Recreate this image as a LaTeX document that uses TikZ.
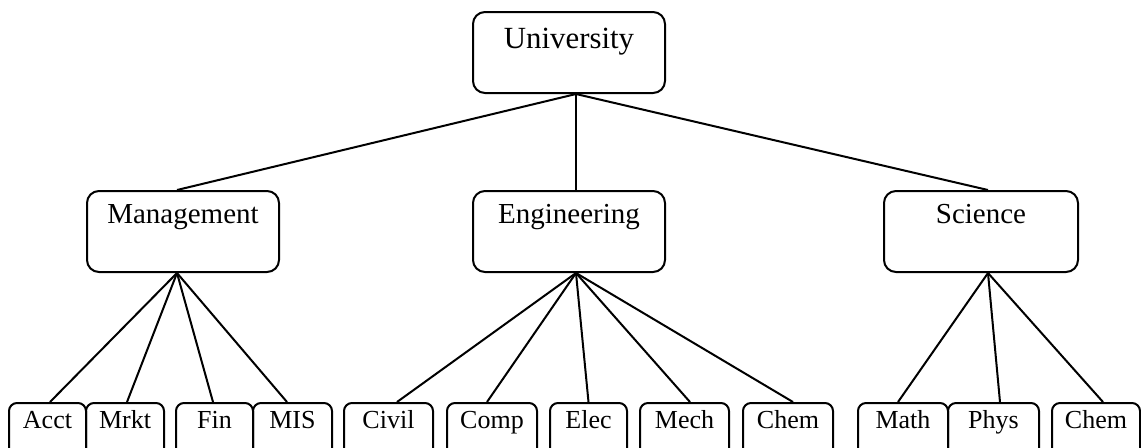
\documentclass[tikz,border=0pt]{standalone}
\usepackage{fontspec}
\setmainfont{Liberation Serif}
\begin{document}
\begin{tikzpicture}[x=0.5pt,y=-0.5pt,
  unitbox/.style={draw, line width=1pt, rounded corners=6pt, anchor=north,
    inner xsep=0pt, inner ysep=0pt, minimum width=#1*0.5pt,
    font=\fontsize{14.5pt}{17pt}\selectfont, text depth=24.5pt, text height=16pt},
  topbox/.style={unitbox=#1, font=\fontsize{15.4pt}{18pt}\selectfont,
    text height=18pt, text depth=22.5pt},
  deptbox/.style={draw, line width=1pt, rounded corners=4pt, anchor=north,
    inner xsep=0pt, inner ysep=0pt, minimum width=#1*0.5pt,
    font=\fontsize{13pt}{15pt}\selectfont, text height=12.5pt, text depth=15pt},
  link/.style={line width=1pt}]
\useasboundingbox (0,0) rectangle (1141,447);
\clip (0,0) rectangle (1141,447);

% top level
\node[topbox=192] (uni) at (569,11) {University};

% faculties
\node[unitbox=192] (mgmt) at (183,190) {Management};
\node[unitbox=192] (eng)  at (569,190) {Engineering};
\node[unitbox=194] (sci)  at (981,190) {Science};

% departments
\node[deptbox=77] (acct)  at (47.5,402) {Acct};
\node[deptbox=78] (mrkt)  at (125,402)  {Mrkt};
\node[deptbox=77] (fin)   at (214.5,402) {Fin};
\node[deptbox=79] (mis)   at (292.5,402) {MIS};
\node[deptbox=89] (civil) at (388.5,402) {Civil};
\node[deptbox=90] (comp)  at (492,402)  {Comp};
\node[deptbox=77] (elec)  at (588.5,402) {Elec};
\node[deptbox=89] (mech)  at (684.5,402) {Mech};
\node[deptbox=90] (echem) at (788,402)  {Chem};
\node[deptbox=90] (math)  at (903,402)  {Math};
\node[deptbox=91] (phys)  at (993.5,402) {Phys};
\node[deptbox=88] (schem) at (1096,402) {Chem};

% connection points
\coordinate (uniB) at ([xshift=3.5pt]uni.south);
\coordinate (mgmtT) at ([xshift=-3pt]mgmt.north);
\coordinate (mgmtB) at ([xshift=-3pt]mgmt.south);
\coordinate (engT) at ([xshift=3.5pt]eng.north);
\coordinate (engB) at ([xshift=3.5pt]eng.south);
\coordinate (sciT) at ([xshift=3.5pt]sci.north);
\coordinate (sciB) at ([xshift=3.5pt]sci.south);

% university to faculties
\draw[link] (uniB) -- (mgmtT);
\draw[link] (uniB) -- (engT);
\draw[link] (uniB) -- (sciT);

% management departments
\draw[link] (mgmtB) -- ([xshift=1.25pt]acct.north);
\draw[link] (mgmtB) -- ([xshift=1pt]mrkt.north);
\draw[link] (mgmtB) -- ([xshift=-0.75pt]fin.north);
\draw[link] (mgmtB) -- ([xshift=-2.75pt]mis.north);

% engineering departments
\draw[link] (engB) -- ([xshift=4.25pt]civil.north);
\draw[link] (engB) -- ([xshift=-2.5pt]comp.north);
\draw[link] (engB) -- (elec.north);
\draw[link] (engB) -- ([xshift=2.75pt]mech.north);
\draw[link] (engB) -- ([xshift=2.5pt]echem.north);

% science departments
\draw[link] (sciB) -- ([xshift=-2.5pt]math.north);
\draw[link] (sciB) -- ([xshift=3.25pt]phys.north);
\draw[link] (sciB) -- ([xshift=3.5pt]schem.north);
\end{tikzpicture}
\end{document}
